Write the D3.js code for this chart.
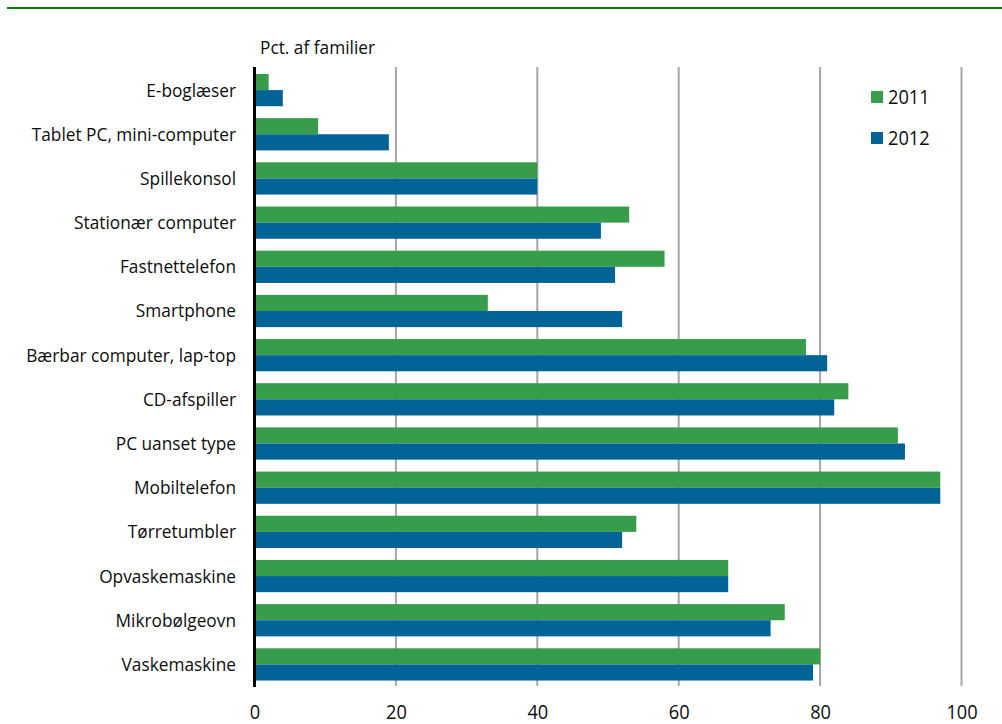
<!DOCTYPE html>
<html>
<head>
<meta charset="utf-8">
<script src="https://cdn.jsdelivr.net/npm/d3@7"></script>
<style>
  html, body { margin: 0; padding: 0; background: #fff; }
  svg { display: block; }
  text { font-family: "Open Sans", "Noto Sans", sans-serif; fill: #0d0d0d; }
</style>
</head>
<body>
<svg id="chart" width="1002" height="724"></svg>
<script>
// Devices owned by households, share of families (%)
const categories = [
  "E-boglæser",
  "Tablet PC, mini-computer",
  "Spillekonsol",
  "Stationær computer",
  "Fastnettelefon",
  "Smartphone",
  "Bærbar computer, lap-top",
  "CD-afspiller",
  "PC uanset type",
  "Mobiltelefon",
  "Tørretumbler",
  "Opvaskemaskine",
  "Mikrobølgeovn",
  "Vaskemaskine"
];
const values2011 = [2, 9, 40, 53, 58, 33, 78, 84, 91, 97, 54, 67, 75, 80];
const values2012 = [4, 19, 40, 49, 51, 52, 81, 82, 92, 97, 52, 67, 73, 79];
const seriesNames = ["2011", "2012"];
const xTicks = [0, 20, 40, 60, 80, 100];
const unitLabel = "Pct. af familier";

const colors = { "2011": "#389d4a", "2012": "#026496" };
const narrow = 0.935; // horizontal squeeze to get a condensed face

const svg = d3.select("#chart");
const W = 1002;

const x = d3.scaleLinear().domain([0, 100]).range([254.5, 961.5]);
const y = d3.scaleBand().domain(categories).range([68, 686.5]).paddingInner(0.27).paddingOuter(0.135);
const sub = d3.scaleBand().domain(seriesNames).range([0, y.bandwidth()]);

// top rule
svg.append("line")
  .attr("x1", 7).attr("x2", W).attr("y1", 8).attr("y2", 8)
  .attr("stroke", "#0a840f").attr("stroke-width", 2);

// unit label
svg.append("text")
  .attr("transform", `translate(260,54) scale(${narrow},1)`)
  .attr("font-size", 18.5)
  .text(unitLabel);

// vertical gridlines
svg.append("g").selectAll("line")
  .data(xTicks.filter(d => d > 0))
  .join("line")
  .attr("x1", d => x(d)).attr("x2", d => x(d))
  .attr("y1", 67).attr("y2", 686)
  .attr("stroke", "#a6a6a6").attr("stroke-width", 2);

// bars
const data = categories.map((c, i) => ({ c, v: { "2011": values2011[i], "2012": values2012[i] } }));
const groups = svg.append("g").selectAll("g")
  .data(data).join("g")
  .attr("transform", d => `translate(0,${y(d.c)})`);
groups.selectAll("rect")
  .data(d => seriesNames.map(s => ({ s, v: d.v[s] })))
  .join("rect")
  .attr("x", x(0))
  .attr("y", d => sub(d.s))
  .attr("width", d => x(d.v) - x(0))
  .attr("height", sub.bandwidth())
  .attr("fill", d => colors[d.s]);

// category axis line
svg.append("line")
  .attr("x1", x(0)).attr("x2", x(0)).attr("y1", 67).attr("y2", 687)
  .attr("stroke", "#000").attr("stroke-width", 3);

// category labels
svg.append("g").selectAll("text")
  .data(categories).join("text")
  .attr("transform", d => `translate(236,${y(d) + y.bandwidth() / 2}) scale(${narrow},1)`)
  .attr("dy", "0.35em")
  .attr("text-anchor", "end")
  .attr("font-size", 18.5)
  .text(d => d);

// value axis labels
const xAxis = d3.axisBottom(x).tickValues(xTicks).tickSize(0).tickPadding(0);
const gx = svg.append("g").attr("transform", "translate(0,712)").call(xAxis);
gx.select(".domain").remove();
gx.selectAll("text")
  .attr("y", 0).attr("dy", "0.35em")
  .attr("transform", `scale(${narrow},1)`)
  .attr("font-size", 19.5)
  .attr("font-family", null)
  .attr("fill", "#0d0d0d");

// legend
const legend = svg.append("g").selectAll("g")
  .data(seriesNames).join("g")
  .attr("transform", (d, i) => `translate(871,${97 + i * 41})`);
legend.append("rect")
  .attr("x", 0).attr("y", -6).attr("width", 12).attr("height", 12)
  .attr("fill", d => colors[d]);
legend.append("text")
  .attr("transform", `translate(17,0) scale(${narrow},1)`)
  .attr("dy", "0.35em")
  .attr("font-size", 19.5)
  .text(d => d);
</script>
</body>
</html>
